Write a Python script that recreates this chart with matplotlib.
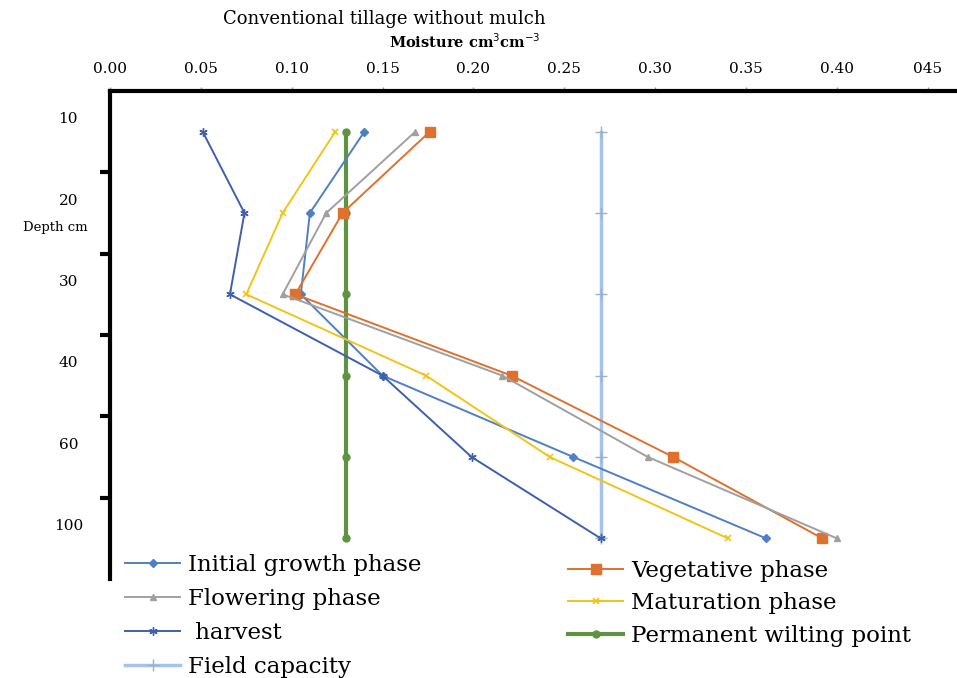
import matplotlib
matplotlib.use("Agg")
import matplotlib.pyplot as plt
import matplotlib.transforms as mtransforms
import numpy as np

# depth categories (cm) and moisture (cm3 cm-3)
depths = ["10", "20", "30", "40", "60", "100"]
initial_growth = [0.140, 0.110, 0.105, 0.150, 0.255, 0.361]
vegetative = [0.176, 0.128, 0.102, 0.221, 0.310, 0.392]
flowering = [0.168, 0.119, 0.095, 0.216, 0.296, 0.400]
maturation = [0.124, 0.095, 0.075, 0.174, 0.242, 0.340]
harvest = [0.051, 0.074, 0.066, 0.150, 0.199, 0.270]
wilting_point = [0.130, 0.130, 0.130, 0.130, 0.130, 0.130]
field_capacity = [0.270, 0.270, 0.270, 0.270, 0.270, 0.270]

xticks = [0.00, 0.05, 0.10, 0.15, 0.20, 0.25, 0.30, 0.35, 0.40, 0.45]
xtick_labels = ["0.00", "0.05", "0.10", "0.15", "0.20", "0.25", "0.30", "0.35", "0.40", "045"]

plt.rcParams['font.family'] = ['DejaVu Serif']

fig = plt.figure(figsize=(9.57, 6.78), dpi=100)
ax = fig.add_axes([110 / 957, 1 - 579 / 678, 1 - 110 / 957, (579 - 91) / 678])

y = np.arange(len(depths))

ax.plot(initial_growth, y, color='#4f7fc4', lw=1.4, marker='D', ms=4, label="Initial growth phase", zorder=4)
ax.plot(vegetative, y, color='#e0702e', lw=1.4, marker='s', ms=7, label="Vegetative phase", zorder=4)
ax.plot(flowering, y, color='#a0a0a0', lw=1.4, marker='^', ms=5, label="Flowering phase", zorder=4)
ax.plot(maturation, y, color='#f2c418', lw=1.4, marker='x', ms=5, mew=1.2, label="Maturation phase", zorder=4)
ax.plot(harvest, y, color='#3f5fae', lw=1.4, marker=(6, 2, 0), ms=6, mew=1, label=" harvest", zorder=4)
ax.plot(wilting_point, y, color='#5e9440', lw=3, marker='o', ms=5, label="Permanent wilting point", zorder=3)
ax.plot(field_capacity, y, color='#a7c3e8', lw=2.5, marker='+', ms=9, mew=1, mec='#9ab0cc', label="Field capacity", zorder=2)

ax.set_xlim(0, (957 - 110) / 1817)
ax.set_ylim(5.5, -0.5)

# x axis on top
ax.xaxis.tick_top()
ax.set_xticks(xticks)
ax.set_xticklabels(xtick_labels, fontsize=11)
ax.tick_params(axis='x', direction='out', length=3, width=1, color='#999999', pad=8)

# y axis: category labels between thick tick marks
ax.set_yticks(np.arange(len(depths) - 1) + 0.5)
ax.set_yticklabels([])
ax.tick_params(axis='y', which='major', direction='out', length=7, width=3, color='black')
ax.set_yticks(y, minor=True)
ax.set_yticklabels(depths, minor=True, fontsize=11, ha='center')
ax.tick_params(axis='y', which='minor', length=0, pad=30)
offset = mtransforms.ScaledTranslation(0, 0.14, fig.dpi_scale_trans)
for lab in ax.get_yticklabels(minor=True):
    lab.set_transform(lab.get_transform() + offset)

for s in ['right', 'bottom']:
    ax.spines[s].set_visible(False)
ax.spines['left'].set_linewidth(3)
ax.spines['top'].set_linewidth(3)

fig.text(384 / 957, 1 - 19 / 678, "Conventional tillage without mulch", ha='center', va='center', fontsize=13)
fig.text(465 / 957, 1 - 42 / 678, "Moisture cm$^3$cm$^{-3}$", ha='center', va='center', fontsize=10.5, fontweight='bold')
fig.text(55 / 957, 1 - 227 / 678, "Depth cm", ha='center', va='center', fontsize=9.5)

handles, labels = ax.get_legend_handles_labels()
hd = dict(zip(labels, handles))
left_keys = ["Initial growth phase", "Flowering phase", " harvest", "Field capacity"]
right_keys = ["Vegetative phase", "Maturation phase", "Permanent wilting point"]

fig.legend([hd[k] for k in left_keys], left_keys, loc='upper left',
           bbox_to_anchor=(125 / 957, 1 - 554 / 678), frameon=False, fontsize=16.5,
           borderpad=0, borderaxespad=0, labelspacing=0.52, handlelength=2.4, handletextpad=0.35)
fig.legend([hd[k] for k in right_keys], right_keys, loc='upper left',
           bbox_to_anchor=(568 / 957, 1 - 560 / 678), frameon=False, fontsize=16.5,
           borderpad=0, borderaxespad=0, labelspacing=0.45, handlelength=2.4, handletextpad=0.35)

fig.savefig('out.png', dpi=100)
